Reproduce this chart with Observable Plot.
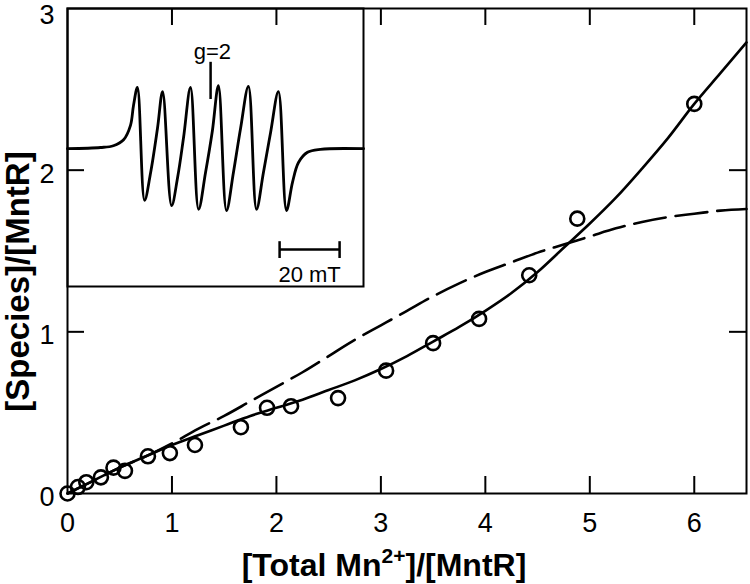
<!DOCTYPE html>
<html>
<head>
<meta charset="utf-8">
<script src="https://cdn.jsdelivr.net/npm/d3@7"></script>
<script src="https://cdn.jsdelivr.net/npm/@observablehq/plot@0.6"></script>
<style>
  body { margin: 0; background: #fff; }
  #wrap { position: relative; width: 750px; height: 584px; background: #fff; overflow: hidden;
          font-family: "Liberation Sans", Arial, Helvetica, sans-serif; color: #000; }
  #inset { position: absolute; left: 67px; top: 8px; }
  #main { position: absolute; left: 0; top: 0; }
  .xt { position: absolute; left: 84px; width: 600px; top: 549px; text-align: center;
        font-weight: bold; font-size: 32px; line-height: 32px; white-space: nowrap; }
  .xt sup { font-size: 21px; line-height: 0; vertical-align: 0; position: relative; top: -13px; }
  .yt { position: absolute; left: -133px; top: 266px; width: 300px; height: 31px; text-align: center;
        font-weight: bold; font-size: 33px; line-height: 31px; white-space: nowrap;
        transform: rotate(-90deg); transform-origin: 50% 50%; }
</style>
</head>
<body>
<div id="wrap">
  <div id="inset"></div>
  <div id="main"></div>
  <div class="xt">[Total Mn<sup>2+</sup>]/[MntR]</div>
  <div class="yt">[Species]/[MntR]</div>
</div>
<script>
// ---- main chart data ----
const xTicks = [0, 1, 2, 3, 4, 5, 6];
const yTicks = [0, 1, 2];
const yTopTick = [3];
const xInnerTicks = [1, 2, 3, 4, 5, 6];
const yInnerTicks = [1, 2];

// measured points (open circles)
const obsX = [0, 0.10, 0.18, 0.32, 0.44, 0.55, 0.77, 0.98, 1.22, 1.66, 1.91, 2.14, 2.59, 3.05, 3.50, 3.94, 4.42, 4.88, 6.00];
const obsY = [0, 0.04, 0.07, 0.10, 0.16, 0.14, 0.23, 0.25, 0.30, 0.41, 0.53, 0.54, 0.59, 0.76, 0.93, 1.08, 1.35, 1.70, 2.41];

// solid fit curve
const solidX = [0, 0.25, 0.5, 0.75, 1.0, 1.25, 1.5, 1.75, 2.0, 2.25, 2.5, 2.75, 3.0, 3.25, 3.5, 3.75, 4.0, 4.25, 4.5, 4.75, 5.0, 5.25, 5.5, 5.75, 6.0, 6.25, 6.5];
const solidY = [0, 0.08, 0.16, 0.23, 0.30, 0.36, 0.42, 0.48, 0.53, 0.58, 0.64, 0.70, 0.77, 0.85, 0.94, 1.03, 1.13, 1.24, 1.37, 1.52, 1.67, 1.83, 2.01, 2.20, 2.41, 2.60, 2.79];

// dashed curve
const dashX = [0, 0.25, 0.5, 0.75, 1.0, 1.25, 1.5, 1.75, 2.0, 2.25, 2.5, 2.75, 3.0, 3.25, 3.5, 3.75, 4.0, 4.25, 4.5, 4.75, 5.0, 5.25, 5.5, 5.75, 6.0, 6.25, 6.5];
const dashY = [0, 0.08, 0.16, 0.23, 0.31, 0.40, 0.48, 0.57, 0.66, 0.75, 0.85, 0.95, 1.04, 1.13, 1.22, 1.30, 1.37, 1.43, 1.49, 1.54, 1.59, 1.64, 1.68, 1.71, 1.73, 1.75, 1.76];

// ---- inset (EPR spectrum) data ----
const eprField = [291.0, 302.0, 306.3, 309.7, 312.0, 313.0, 314.3, 316.7, 318.7, 321.0, 322.7, 325.7, 327.7, 329.7, 332.0, 334.7, 337.0, 339.3, 341.3, 344.0, 346.3, 348.7, 351.3, 354.0, 356.3, 358.7, 361.3, 364.0, 366.0, 368.0, 371.0, 375.3, 389.7];
const eprSignal = [-0.02, 0, 0.03, 0.13, 0.37, 0.70, 1.00, -0.88, -0.42, 0.32, 0.93, -0.97, -0.50, 0.17, 1.00, -1.03, -0.42, 0.28, 1.03, -1.05, -0.42, 0.32, 1.02, -1.03, -0.42, 0.25, 0.93, -1.05, -0.58, -0.25, -0.08, -0.03, -0.02];
const gMarkerField = 338.7;     // g = 2 position (mT)
const gMarkerSpan = [0.80, 1.42];
const scaleBarFields = [361.7, 381.7];  // 20 mT
const scaleBarLevel = -1.70;
const scaleBarEnds = [-1.57, -1.85];
const insetLabels = ["g=2", "20 mT"];

const obs = obsX.map((x, i) => ({x, y: obsY[i]}));
const solid = solidX.map((x, i) => ({x, y: solidY[i]}));
const dashed = dashX.map((x, i) => ({x, y: dashY[i]}));
const epr = eprField.map((f, i) => ({f, s: eprSignal[i]}));

const main = Plot.plot({
  width: 750,
  height: 584,
  marginLeft: 67,
  marginRight: 4,
  marginTop: 8,
  marginBottom: 91,
  x: {domain: [0, 6.5]},
  y: {domain: [0, 3]},
  style: {background: "transparent", fontFamily: "'Liberation Sans', Arial, sans-serif", fontSize: "27px", color: "#000"},
  marks: [
    Plot.axisX({ticks: xTicks, tickSize: 0, tickPadding: 19, label: null, tickFormat: d => String(d)}),
    Plot.axisY({ticks: yTicks, tickSize: 0, tickPadding: 13, dy: 4, label: null, tickFormat: d => String(d)}),
    Plot.axisY({ticks: yTopTick, tickSize: 0, tickPadding: 13, dy: 7, label: null, tickFormat: d => String(d)}),
    // inward ticks on all four sides
    Plot.ruleX(xInnerTicks, {x: d => d, y1: 0, y2: 0, insetTop: -17, stroke: "#000", strokeWidth: 2}),
    Plot.ruleX(xInnerTicks, {x: d => d, y1: 3, y2: 3, insetBottom: -17, stroke: "#000", strokeWidth: 2}),
    Plot.ruleY(yInnerTicks, {y: d => d, x1: 0, x2: 0, insetRight: -17, stroke: "#000", strokeWidth: 2}),
    Plot.ruleY(yInnerTicks, {y: d => d, x1: 6.5, x2: 6.5, insetLeft: -17, stroke: "#000", strokeWidth: 2}),
    Plot.line(dashed, {x: "x", y: "y", stroke: "#000", strokeWidth: 2.6, strokeDasharray: "32,10", curve: "catmull-rom"}),
    Plot.line(solid, {x: "x", y: "y", stroke: "#000", strokeWidth: 2.6, curve: "catmull-rom"}),
    Plot.dot(obs, {x: "x", y: "y", r: 7, stroke: "#000", strokeWidth: 2.6, fill: "none"}),
    Plot.frame({stroke: "#000", strokeWidth: 2})
  ]
});
document.getElementById("main").appendChild(main);

const inset = Plot.plot({
  width: 296,
  height: 278,
  margin: 0,
  x: {domain: [291, 389.67], axis: null},
  y: {domain: [-2.317, 2.317], axis: null},
  style: {background: "#fff", fontFamily: "'Liberation Sans', Arial, sans-serif", fontSize: "22px", color: "#000", overflow: "visible"},
  marks: [
    Plot.line(epr, {x: "f", y: "s", stroke: "#000", strokeWidth: 2.8, curve: "catmull-rom"}),
    Plot.ruleX([gMarkerField], {x: d => d, y1: gMarkerSpan[0], y2: gMarkerSpan[1], stroke: "#000", strokeWidth: 2.5}),
    Plot.text([insetLabels[0]], {x: gMarkerField + 0.6, y: 1.47, text: d => d, lineAnchor: "bottom", fill: "#000"}),
    Plot.ruleY([scaleBarLevel], {y: d => d, x1: scaleBarFields[0], x2: scaleBarFields[1], stroke: "#000", strokeWidth: 2.5}),
    Plot.ruleX(scaleBarFields, {x: d => d, y1: scaleBarEnds[0], y2: scaleBarEnds[1], stroke: "#000", strokeWidth: 2.5}),
    Plot.text([insetLabels[1]], {x: (scaleBarFields[0] + scaleBarFields[1]) / 2, y: -2.25, text: d => d, lineAnchor: "bottom", fill: "#000"}),
    Plot.frame({stroke: "#000", strokeWidth: 2})
  ]
});
inset.style.overflow = "visible";
document.getElementById("inset").appendChild(inset);
</script>
</body>
</html>
